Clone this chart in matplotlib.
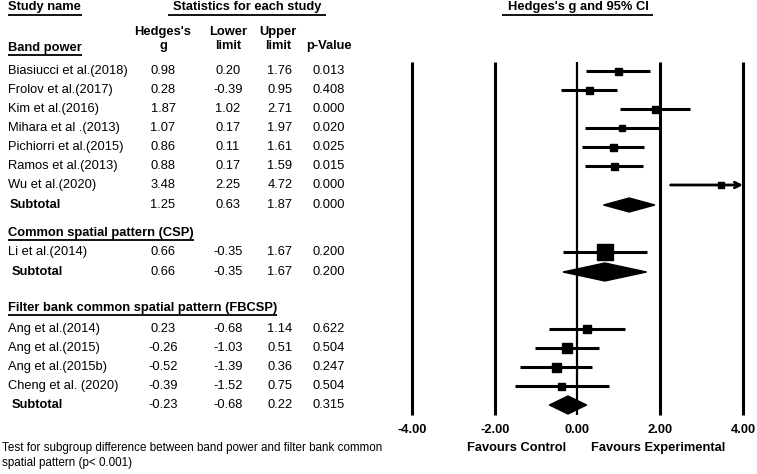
import matplotlib.pyplot as plt
from matplotlib.patches import Polygon

plt.rcParams['font.family'] = ['Liberation Sans', 'DejaVu Sans']

# data
band_names = ['Biasiucci et al.(2018)', 'Frolov et al.(2017)', 'Kim et al.(2016)',
              'Mihara et al .(2013)', 'Pichiorri et al.(2015)', 'Ramos et al.(2013)',
              'Wu et al.(2020)']
band_g = [0.98, 0.28, 1.87, 1.07, 0.86, 0.88, 3.48]
band_lo = [0.20, -0.39, 1.02, 0.17, 0.11, 0.17, 2.25]
band_hi = [1.76, 0.95, 2.71, 1.97, 1.61, 1.59, 4.72]
band_p = ['0.013', '0.408', '0.000', '0.020', '0.025', '0.015', '0.000']
band_sub = (1.25, 0.63, 1.87, '0.000')

csp_names = ['Li et al.(2014)']
csp_g = [0.66]
csp_lo = [-0.35]
csp_hi = [1.67]
csp_p = ['0.200']
csp_sub = (0.66, -0.35, 1.67, '0.200')

fb_names = ['Ang et al.(2014)', 'Ang et al.(2015)', 'Ang et al.(2015b)', 'Cheng et al. (2020)']
fb_g = [0.23, -0.26, -0.52, -0.39]
fb_lo = [-0.68, -1.03, -1.39, -1.52]
fb_hi = [1.14, 0.51, 0.36, 0.75]
fb_p = ['0.622', '0.504', '0.247', '0.504']
fb_sub = (-0.23, -0.68, 0.22, '0.315')

ticks = [-4, -2, 0, 2, 4]

# layout (pixel rows)
groups = [
    dict(title='Band power', names=band_names, g=band_g, lo=band_lo, hi=band_hi, p=band_p,
         sub=band_sub, head_y=48, rows_y=[71, 90, 109, 128, 147, 166, 185], sub_y=205,
         sizes=[7, 7, 7, 6, 7, 7, 6], dh=14, sub_x=10),
    dict(title='Common spatial pattern (CSP)', names=csp_names, g=csp_g, lo=csp_lo, hi=csp_hi,
         p=csp_p, sub=csp_sub, head_y=233, rows_y=[252], sub_y=272, sizes=[16], dh=18, sub_x=12),
    dict(title='Filter bank common spatial pattern (FBCSP)', names=fb_names, g=fb_g, lo=fb_lo,
         hi=fb_hi, p=fb_p, sub=fb_sub, head_y=308, rows_y=[329, 348, 367, 386], sub_y=405,
         sizes=[8, 10, 9, 7], dh=18, sub_x=12),
]
col_x = [163, 228, 280, 329]
fs = 9.3

fig = plt.figure(figsize=(7.57, 4.74), dpi=100)
ax = fig.add_axes([0, 0, 1, 1])
ax.set_xlim(0, 757)
ax.set_ylim(474, 0)
ax.axis('off')

fax = fig.add_axes([380 / 757, 0, 377 / 757, 1])
fax.set_xlim(-4.773, 4.338)
fax.set_ylim(474, 0)
fax.axis('off')
fax.patch.set_alpha(0)


def underline(x0, x1, y):
    ax.plot([x0, x1], [y, y], color='black', lw=1.3, solid_capstyle='butt')


# headers
ax.text(8, 7, 'Study name', fontsize=fs, fontweight='bold', va='center')
underline(8, 82, 14.5)
ax.text(247, 7, 'Statistics for each study', fontsize=fs, fontweight='bold',
        va='center', ha='center')
underline(168, 326, 14.5)
ax.text(578, 7, "Hedges's g and 95% CI", fontsize=fs, fontweight='bold',
        va='center', ha='center')
underline(502, 653, 14.5)
ax.text(col_x[0], 32, "Hedges's", fontsize=fs, fontweight='bold', ha='center', va='center')
ax.text(col_x[0], 46, 'g', fontsize=fs, fontweight='bold', ha='center', va='center')
ax.text(col_x[1], 32, 'Lower', fontsize=fs, fontweight='bold', ha='center', va='center')
ax.text(col_x[1], 46, 'limit', fontsize=fs, fontweight='bold', ha='center', va='center')
ax.text(col_x[2] - 2, 32, 'Upper', fontsize=fs, fontweight='bold', ha='center', va='center')
ax.text(col_x[2] - 2, 46, 'limit', fontsize=fs, fontweight='bold', ha='center', va='center')
ax.text(col_x[3], 46, 'p-Value', fontsize=fs, fontweight='bold', ha='center', va='center')

# vertical reference lines
for t in ticks:
    fax.vlines(t, 62, 415, color='black', lw=1.6 if t == 0 else 2.2)
    fax.text(t, 430, '{:.2f}'.format(t), fontsize=fs, fontweight='bold',
             ha='center', va='center')

for grp in groups:
    hy = grp['head_y']
    t = ax.text(8, hy, grp['title'], fontsize=fs, fontweight='bold', va='center')
    fig.canvas.draw()
    bb = t.get_window_extent()
    underline(8, 8 + bb.width, hy + 7)
    for i, y in enumerate(grp['rows_y']):
        ax.text(8, y, grp['names'][i], fontsize=fs, va='center')
        vals = ['{:.2f}'.format(grp['g'][i]), '{:.2f}'.format(grp['lo'][i]),
                '{:.2f}'.format(grp['hi'][i]), grp['p'][i]]
        for cx, v in zip(col_x, vals):
            ax.text(cx, y, v, fontsize=fs, ha='center', va='center')
        lo, hi = grp['lo'][i], grp['hi'][i]
        if hi > 4:
            fax.annotate('', xy=(4, y), xytext=(lo, y),
                         arrowprops=dict(arrowstyle='->', lw=2.0, color='black',
                                         shrinkA=0, shrinkB=0, mutation_scale=10))
        else:
            fax.plot([lo, hi], [y, y], color='black', lw=2.2, solid_capstyle='butt')
        fax.plot(grp['g'][i], y, marker='s', color='black', markersize=grp['sizes'][i] * 0.72)
    sy = grp['sub_y']
    g, lo, hi, p = grp['sub']
    ax.text(grp['sub_x'], sy, 'Subtotal', fontsize=fs, fontweight='bold', va='center')
    for cx, v in zip(col_x, ['{:.2f}'.format(g), '{:.2f}'.format(lo), '{:.2f}'.format(hi), p]):
        ax.text(cx, sy, v, fontsize=fs, ha='center', va='center')
    h = grp['dh'] / 2
    fax.add_patch(Polygon([(lo, sy), (g, sy - h), (hi, sy), (g, sy + h)],
                          closed=True, color='black'))

ax.text(517, 448, 'Favours Control', fontsize=fs, fontweight='bold', ha='center', va='center')
ax.text(658, 448, 'Favours Experimental', fontsize=fs, fontweight='bold', ha='center', va='center')

ax.text(2, 448, 'Test for subgroup difference between band power and filter bank common',
        fontsize=8.4, va='center')
ax.text(2, 463, 'spatial pattern (p< 0.001)', fontsize=8.4, va='center')

fig.savefig('out.png', dpi=100)
